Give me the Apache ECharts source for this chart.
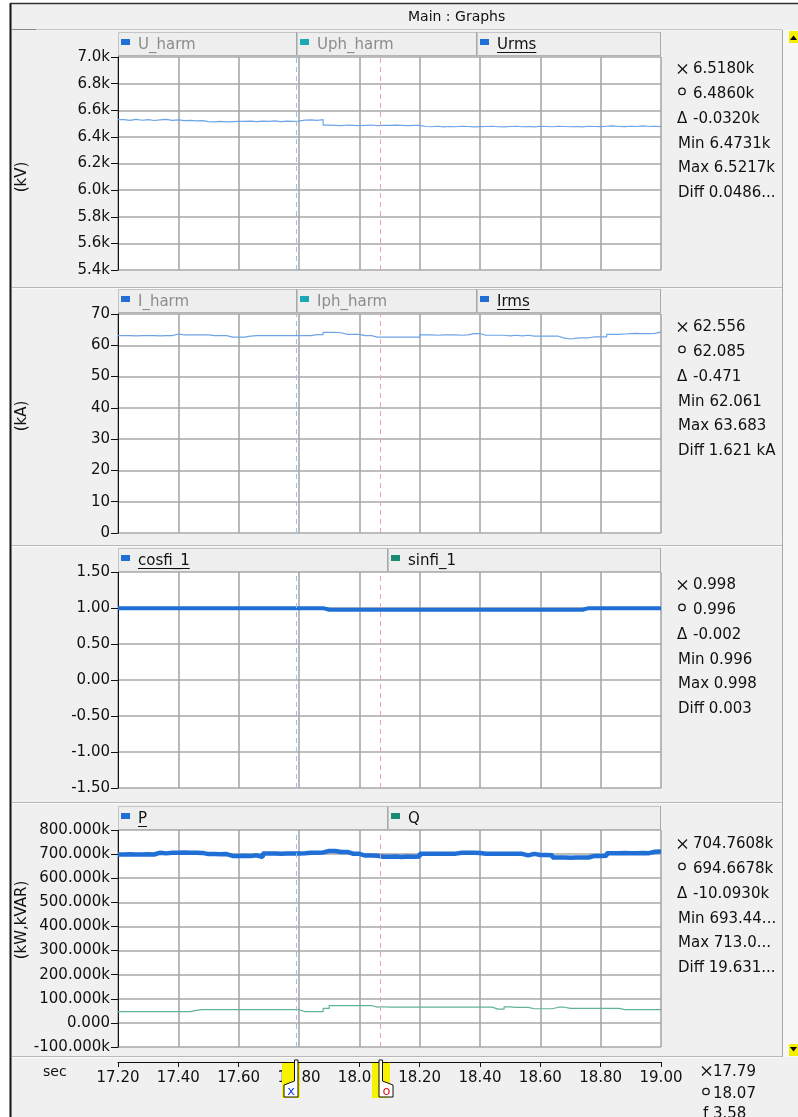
<!DOCTYPE html>
<html><head><meta charset="utf-8">
<script src="https://cdn.jsdelivr.net/npm/echarts@6/dist/echarts.min.js"></script>
<style>html,body{margin:0;padding:0;background:#ffffff;}#c{width:798px;height:1117px;}</style>
</head><body><div id="c"></div>
<script>
// ---- sampling grid (time, s) ----
const T0 = 17.2;
const DT = 0.02;
const X_MIN = 17.2, X_MAX = 19.0, X_STEP = 0.2;
const CURSOR_X = 17.79, CURSOR_O = 18.07;

// ---- Urms (V) ----
const URMS = [
 6530, 6524, 6531, 6525, 6529, 6523, 6528, 6531, 6524, 6527,
 6522, 6524, 6520, 6522,
 6515, 6512, 6517, 6512, 6515, 6516,
 6517, 6519, 6515, 6519, 6516, 6520, 6515, 6518, 6516, 6519,
 6526, 6528, 6524, 6529,
 6489,
 6487, 6485, 6489, 6487, 6485, 6487, 6489, 6485, 6487, 6486, 6489, 6487, 6485, 6487, 6486,
 6478, 6476, 6480, 6475, 6478, 6476, 6480, 6478, 6475, 6477,
 6478, 6480, 6476, 6475, 6478, 6480, 6476, 6478, 6475, 6480,
 6478, 6476, 6480, 6478, 6476, 6478, 6475, 6480, 6478, 6477,
 6480, 6482, 6478, 6477, 6480, 6478, 6482, 6478, 6480, 6477,
 6476
];
// ---- Irms (kA) ----
const IRMS = [
 63.1, 63.1, 63.0, 63.1, 63.1, 63.1, 63.0, 63.1, 63.1,
 63.6,
 63.3, 63.3, 63.3, 63.3, 63.3,
 63.1, 63.1, 63.1,
 62.6, 62.6, 62.6, 62.9,
 63.1, 63.1, 63.1, 63.1, 63.1, 63.1, 63.1, 63.1, 63.1, 63.1,
 63.4, 63.4,
 64.1, 64.1, 64.0,
 63.5, 63.5, 63.5,
 63.1, 63.1,
 62.6, 62.6, 62.6, 62.6, 62.6, 62.6, 62.6, 62.6,
 63.3, 63.3, 63.2, 63.3, 63.3, 63.3, 63.2, 63.3,
 63.7, 63.7,
 63.2, 63.2, 63.2, 63.2, 63.0, 63.2, 63.0, 63.2,
 62.9, 62.9, 62.9, 62.9, 62.9,
 62.3, 62.0, 62.3,
 62.4, 62.4,
 62.7, 62.7, 62.7,
 63.5, 63.5, 63.6,
 63.7, 63.8, 63.7, 63.7, 63.8,
 64.2, 64.2
];
// ---- cosfi_1 ----
const COSFI = [
 0.998, 0.998, 0.998, 0.998, 0.998, 0.998, 0.998, 0.998, 0.998, 0.998,
 0.998, 0.998, 0.998, 0.998, 0.998, 0.998, 0.998, 0.998, 0.998, 0.998,
 0.998, 0.998, 0.998, 0.998, 0.998, 0.998, 0.998, 0.998, 0.998, 0.998,
 0.998, 0.998, 0.998, 0.998,
 0.976, 0.976, 0.976, 0.976, 0.976, 0.976, 0.976, 0.976, 0.976, 0.976, 0.976,
 0.976, 0.976, 0.976, 0.976, 0.976, 0.976, 0.976, 0.976, 0.976, 0.976, 0.976,
 0.976, 0.976, 0.976, 0.976, 0.976, 0.976, 0.976, 0.976, 0.976, 0.976, 0.976,
 0.976, 0.976, 0.976, 0.976, 0.976, 0.976, 0.976, 0.976, 0.976, 0.976,
 0.998, 0.998, 0.998, 0.998, 0.998, 0.998, 0.998, 0.998, 0.998, 0.998, 0.998, 0.998, 0.998, 0.998
];
// ---- P (k) ----
const P_VAL = [
 698.5, 699, 698, 698.5, 699, 698.5,
 706,
 703,
 706, 706, 707, 706, 706, 705,
 700, 700, 699, 700,
 692.5, 692, 693, 692.5,
 695,
 688,
 703, 703, 702, 703, 703, 703, 704,
 706, 706, 707,
 713, 713,
 709, 709,
 701.5, 701,
 694, 694, 693, 689,
 689, 690, 688, 690, 689, 690,
 701.5, 701, 702, 701.5, 701, 702, 706,
 706, 706, 705,
 701.5, 702, 701, 701.5, 702, 701.5, 701, 695, 701,
 696, 696, 695,
 686, 686, 685, 686, 686, 686,
 692.5, 692, 693,
 704, 704, 705, 704, 704, 705, 704,
 710, 711, 711
];
// ---- Q (k) ----
const Q_VAL = [
 46.7, 46.7, 46.7, 46.7, 46.7, 46.7, 46.7, 46.7, 46.7, 46.7, 46.7, 46.7,
 52,
 54.7, 54.7, 54.7, 54.7, 54.7, 54.7, 54.7, 54.7, 54.7, 54.7, 54.7, 54.7, 54.7, 54.7, 54.7, 54.7, 54.7,
 46.7, 46.7, 46.7, 46.7,
 60,
 72, 72, 72, 72, 72, 72, 72,
 65.3, 67, 65.3, 65.3, 65.3, 65.3, 65.3, 65.3, 65.3, 65.3, 65.3, 65.3, 65.3, 65.3, 65.3, 65.3, 65.3, 65.3, 65.3, 65.3,
 57.3, 57.3,
 66.7,
 64, 64, 64,
 58.7, 58.7, 58.7, 58.7,
 65, 65,
 60, 60, 60, 60, 60, 60, 60, 60, 60,
 54.7, 54.7, 54.7, 54.7, 54.7, 54.7, 54.7, 54.7
];

// ---- legend headers & readout texts ----
const LEG1 = ['U_harm', 'Uph_harm', 'Urms'];
const LEG2 = ['I_harm', 'Iph_harm', 'Irms'];
const LEG3 = ['cosfi_1', 'sinfi_1'];
const LEG4 = ['P', 'Q'];
const READ1 = ['6.5180k', '6.4860k', '-0.0320k', '6.4731k', '6.5217k', '0.0486...'];
const READ2 = ['62.556', '62.085', '-0.471', '62.061', '63.683', '1.621 kA'];
const READ3 = ['0.998', '0.996', '-0.002', '0.996', '0.998', '0.003'];
const READ4 = ['704.7608k', '694.6678k', '-10.0930k', '693.44...', '713.0...', '19.631...'];
const READ_T = ['17.79', '18.07', '3.58'];
const UNITS = ['(kV)', '(kA)', '', '(kW,kVAR)'];

const FONT = 'DejaVu Sans';
const BLUE = '#1f6fd6', TEAL = '#1aa9b3', GREEN = '#1a8a72';
const GRIDC = '#a8a8a8';

const toPairs = arr => arr.map((v, i) => [+(T0 + i * DT).toFixed(2), v]);

const GR = [
  {top: 57, height: 213},
  {top: 314, height: 219},
  {top: 572, height: 216},
  {top: 830, height: 217}
];
const LEFT = 118, WIDTH = 543;

const grids = GR.map(g => ({left: LEFT, width: WIDTH, top: g.top, height: g.height, show: true, backgroundColor: '#ffffff', borderWidth: 0}));
grids.push({left: LEFT, width: WIDTH, top: 1042, height: 20, show: false});

const xAxes = GR.map((g, i) => ({
  type: 'value', gridIndex: i, min: X_MIN, max: X_MAX, interval: X_STEP,
  axisLine: {show: false}, axisTick: {show: false}, axisLabel: {show: false},
  splitLine: {show: true, lineStyle: {color: GRIDC, width: 1.6}}
}));
xAxes.push({
  type: 'value', gridIndex: 4, min: X_MIN, max: X_MAX, interval: X_STEP, position: 'bottom',
  axisLine: {show: true, onZero: false, lineStyle: {color: '#111', width: 1}},
  axisTick: {show: true, length: 5, lineStyle: {color: '#111'}},
  axisLabel: {show: true, fontFamily: FONT, fontSize: 15, color: '#111', margin: 9, formatter: v => v.toFixed(2)},
  splitLine: {show: false}
});

const yBase = (i, min, max, interval, fmt) => ({
  type: 'value', gridIndex: i, min, max, interval,
  axisLine: {show: true, onZero: false, lineStyle: {color: '#111', width: 1}},
  axisTick: {show: true, length: 7, lineStyle: {color: '#111'}},
  axisLabel: {fontFamily: FONT, fontSize: 15, color: '#111', margin: 8, formatter: fmt},
  splitLine: {show: true, lineStyle: {color: GRIDC, width: 1.6}}
});
const yAxes = [
  yBase(0, 5400, 7000, 200, v => (v / 1000).toFixed(1) + 'k'),
  yBase(1, 0, 70, 10, v => String(Math.round(v))),
  yBase(2, -1.5, 1.5, 0.5, v => v.toFixed(2)),
  yBase(3, -100, 800, 100, v => (Math.abs(v) < 1e-9 ? '0.000' : v.toFixed(3) + 'k')),
  {type: 'value', gridIndex: 4, show: false, min: 0, max: 1}
];

const cursorLines = {
  symbol: 'none', silent: true, label: {show: false}, animation: false,
  data: [
    {xAxis: CURSOR_X, lineStyle: {color: '#9fc1ee', type: [5, 4], width: 1}},
    {xAxis: CURSOR_O, lineStyle: {color: '#f2a0a8', type: [5, 4], width: 1}}
  ]
};

const lineSeries = (name, data, xi, color, width) => ({
  name, type: 'line', xAxisIndex: xi, yAxisIndex: xi, data: toPairs(data),
  step: 'end', showSymbol: false, symbol: 'none', animation: false,
  lineStyle: {color, width}, itemStyle: {color}, z: 3,
  markLine: cursorLines
});

const series = [
  lineSeries('Urms', URMS, 0, '#6ea4e6', 1.2),
  lineSeries('Irms', IRMS, 1, '#6ea4e6', 1.2),
  lineSeries('cosfi_1', COSFI, 2, BLUE, 4),
  lineSeries('P', P_VAL, 3, BLUE, 4.5),
  Object.assign(lineSeries('Q', Q_VAL, 3, '#62b39b', 1.2), {markLine: undefined}),
  {type: 'line', xAxisIndex: 4, yAxisIndex: 4, data: [], silent: true}
];

// ---- graphics ----
const G = [];
const mctx = document.createElement('canvas').getContext('2d');
mctx.font = '15px "' + FONT + '"';
const txt = (x, y, text, o = {}) => G.push({
  type: 'text', x, y, rotation: o.rot || 0, z: o.z || 10, silent: true,
  style: {text, fill: o.color || '#111', font: (o.size || 15) + 'px "' + FONT + '"',
    textAlign: o.align || 'left', textVerticalAlign: 'middle', align: o.align || 'left', verticalAlign: 'middle'}
});
const line = (x1, y1, x2, y2, stroke, w = 1, z = 5) => G.push({type: 'line', z, silent: true,
  shape: {x1, y1, x2, y2}, style: {stroke, lineWidth: w}});
const rect = (x, y, w, h, fill, stroke, z = 5) => G.push({type: 'rect', z, silent: true,
  shape: {x, y, width: w, height: h}, style: {fill, stroke: stroke || null, lineWidth: 1}});

// frame (white margin outside the window border)
rect(0, 0, 10, 1117, '#ffffff', null, 1);
rect(0, 0, 798, 3, '#ffffff', null, 1);
line(10.5, 3, 10.5, 1117, '#111', 2, 20);
line(10, 3.5, 798, 3.5, '#333', 1.5, 20);
line(12, 29.5, 782, 29.5, '#c8c8c8', 1, 6);
line(12, 29.5, 36, 29.5, '#888', 1, 6);
txt(408, 17, 'Main : Graphs', {size: 14});
[287.5, 545.5, 802.5, 1056.5].forEach(y => { line(12, y, 782, y, '#b8b8b8', 1, 6); line(12, y + 1, 782, y + 1, '#fafafa', 1, 6); });

// scrollbar
rect(783, 30, 15, 1027, '#f7f7f7', null, 4);
line(782.5, 30, 782.5, 1057, '#a8a8a8', 1, 6);
rect(789, 31, 9, 12, '#f5ef00', null, 7);
G.push({type: 'polygon', z: 8, silent: true, shape: {points: [[790, 40], [797, 40], [793.5, 35.5]]}, style: {fill: '#000'}});
rect(789, 1044, 9, 12, '#f5ef00', null, 7);
G.push({type: 'polygon', z: 8, silent: true, shape: {points: [[790, 1047], [797, 1047], [793.5, 1051.5]]}, style: {fill: '#000'}});

// legend headers
const header = (top, segs) => {
  segs.forEach(s => {
    rect(s.x0 + 0.5, top + 0.5, s.x1 - s.x0 - 1, 23, '#eeeeee', '#c4c4c4', 6);
    line(s.x1 - 0.5, top, s.x1 - 0.5, top + 24, '#a8a8a8', 1, 7);
    line(s.x0, top + 23.5, s.x1, top + 23.5, '#b4b4b4', 1, 7);
    rect(s.x0 + 3, top + 7, 9, 6, s.color, null, 8);
    txt(s.x0 + 20, top + 13, s.name, {color: s.active ? '#111' : '#8c8c8c'});
    if (s.under) {
      const w = mctx.measureText(s.name).width;
      line(s.x0 + 20, top + 20.5, s.x0 + 20 + w, top + 20.5, '#111', 1, 9);
    }
  });
};
header(32, [
  {x0: 118, x1: 297, name: LEG1[0], color: BLUE},
  {x0: 297, x1: 477, name: LEG1[1], color: TEAL},
  {x0: 477, x1: 661, name: LEG1[2], color: BLUE, active: true, under: true}
]);
header(289, [
  {x0: 118, x1: 297, name: LEG2[0], color: BLUE},
  {x0: 297, x1: 477, name: LEG2[1], color: TEAL},
  {x0: 477, x1: 661, name: LEG2[2], color: BLUE, active: true, under: true}
]);
header(548, [
  {x0: 118, x1: 388, name: LEG3[0], color: BLUE, active: true, under: true},
  {x0: 388, x1: 661, name: LEG3[1], color: GREEN, active: true}
]);
header(806, [
  {x0: 118, x1: 388, name: LEG4[0], color: BLUE, active: true, under: true},
  {x0: 388, x1: 661, name: LEG4[1], color: GREEN, active: true}
]);

// axis unit names
txt(22, 177, UNITS[0], {rot: Math.PI / 2, align: 'center'});
txt(22, 416, UNITS[1], {rot: Math.PI / 2, align: 'center'});
txt(22, 920, UNITS[3], {rot: Math.PI / 2, align: 'center'});

// readouts
const crossSym = (x, c) => { line(x, c - 4.5, x + 9, c + 4.5, '#111', 1.3, 10); line(x + 9, c - 4.5, x, c + 4.5, '#111', 1.3, 10); };
const circSym = (x, c) => G.push({type: 'circle', z: 10, silent: true, shape: {cx: x + 4, cy: c - 2.5, r: 3.2}, style: {fill: 'none', stroke: '#111', lineWidth: 1.3}});
const readout = (y0, vals) => {
  const sp = 24.9;
  crossSym(678, y0); txt(693, y0, vals[0]);
  circSym(678, y0 + sp); txt(693, y0 + sp, vals[1]);
  txt(677, y0 + 2 * sp, 'Δ'); txt(693, y0 + 2 * sp, vals[2]);
  txt(678, y0 + 3 * sp, 'Min ' + vals[3]);
  txt(678, y0 + 4 * sp, 'Max ' + vals[4]);
  txt(678, y0 + 5 * sp, 'Diff ' + vals[5]);
};
readout(69, READ1);
readout(327, READ2);
readout(585, READ3);
readout(844, READ4);
crossSym(702, 1071); txt(713, 1072, READ_T[0]);
circSym(702, 1094); txt(713, 1094, READ_T[1]);
txt(703, 1114, 'f'); txt(713, 1114, READ_T[2]);
txt(43, 1072, 'sec', {size: 14});

// cursor markers on the time axis
rect(282, 1063, 18, 35, '#f7f200', null, 30);
G.push({type: 'polygon', z: 31, silent: true, shape: {points: [[294.5, 1060], [298, 1060], [298, 1097], [284, 1097], [284, 1085], [294.5, 1081]]}, style: {fill: '#fff', stroke: '#111', lineWidth: 1}});
txt(291, 1091.5, 'x', {color: '#1a3fe0', size: 13, align: 'center', z: 32});
rect(372, 1063, 18, 35, '#f7f200', null, 30);
G.push({type: 'polygon', z: 31, silent: true, shape: {points: [[379, 1060], [382.5, 1060], [382.5, 1081], [393, 1085], [393, 1097], [379, 1097]]}, style: {fill: '#fff', stroke: '#111', lineWidth: 1}});
txt(386.5, 1091.5, 'o', {color: '#e01a1a', size: 13, align: 'center', z: 32});

const chart = echarts.init(document.getElementById('c'), null, {renderer: 'canvas'});
chart.setOption({
  animation: false,
  backgroundColor: '#f0f0f0',
  textStyle: {fontFamily: FONT},
  grid: grids,
  xAxis: xAxes,
  yAxis: yAxes,
  series: series,
  graphic: {elements: G}
});
</script></body></html>
